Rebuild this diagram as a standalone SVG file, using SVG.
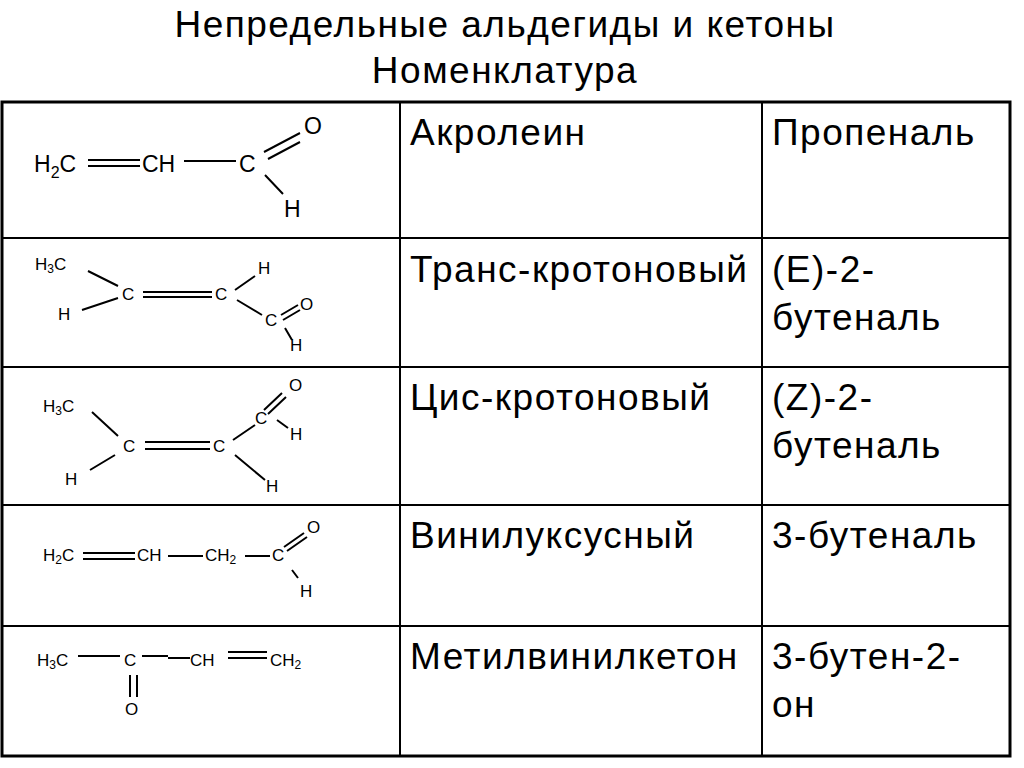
<svg xmlns="http://www.w3.org/2000/svg" width="1024" height="768" viewBox="0 0 1024 768">
<style>
.t{font-family:"Liberation Sans",Arial,sans-serif;font-size:37px;letter-spacing:1.5px;fill:#000}
.c{font-family:"Liberation Sans",Arial,sans-serif;font-size:23px;fill:#000}
.s{font-family:"Liberation Sans",Arial,sans-serif;font-size:17px;fill:#000}
.b{stroke:#000;stroke-width:2;fill:none}
.g{stroke:#000;stroke-width:2;fill:none}
</style>
<rect width="1024" height="768" fill="#fff"/>
<text class="t" x="505" y="37" text-anchor="middle">Непредельные альдегиды и кетоны</text>
<text class="t" x="505" y="83" text-anchor="middle">Номенклатура</text>
<g id="table" class="g">
<rect x="2" y="102" width="1008" height="654" stroke-width="3"/>
<line x1="400" y1="102" x2="400" y2="756"/>
<line x1="762" y1="102" x2="762" y2="756"/>
<line x1="2" y1="238" x2="1010" y2="238"/>
<line x1="2" y1="367" x2="1010" y2="367"/>
<line x1="2" y1="505" x2="1010" y2="505"/>
<line x1="2" y1="626" x2="1010" y2="626"/>
</g>
<g id="names">
<text class="t" x="410" y="145">Акролеин</text><text class="t" x="772" y="145">Пропеналь</text>
<text class="t" x="410" y="282">Транс-кротоновый</text><text class="t" x="772" y="282">(E)-2-</text><text class="t" x="772" y="330">бутеналь</text>
<text class="t" x="410" y="410">Цис-кротоновый</text><text class="t" x="772" y="410">(Z)-2-</text><text class="t" x="772" y="458">бутеналь</text>
<text class="t" x="410" y="548">Винилуксусный</text><text class="t" x="772" y="548">3-бутеналь</text>
<text class="t" x="410" y="669">Метилвинилкетон</text><text class="t" x="772" y="669">3-бутен-2-</text><text class="t" x="772" y="717">он</text>
</g>
<g id="acrolein">
<text class="c" x="34" y="172">H<tspan font-size="16" dy="6">2</tspan><tspan dy="-6">C</tspan></text>
<text class="c" x="142" y="172">CH</text><text class="c" x="239" y="172">C</text>
<text class="c" x="304" y="134">O</text><text class="c" x="284" y="217">H</text>
<path class="b" d="M88 160H140M88 166H140M184 161H236M264 152L300 133M268 159L300 142M265 175L283 194"/>
</g>
<g id="trans">
<text class="s" x="35" y="270">H<tspan font-size="12" dy="3">3</tspan><tspan dy="-3">C</tspan></text>
<text class="s" x="122" y="300">C</text><text class="s" x="58" y="320">H</text>
<text class="s" x="215" y="300">C</text><text class="s" x="258" y="274">H</text>
<text class="s" x="265" y="326">C</text><text class="s" x="300" y="310">O</text><text class="s" x="290" y="351">H</text>
<path class="b" stroke-width="1.5" d="M88 271L118 286M82 310L118 298M143 292H212M143 297H212M235 290L255 276M237 300L262 315M281 315L298 305M283 320L300 310M285 328L292 340"/>
</g>
<g id="cis">
<text class="s" x="43" y="412">H<tspan font-size="12" dy="3">3</tspan><tspan dy="-3">C</tspan></text>
<text class="s" x="123" y="452">C</text><text class="s" x="65" y="485">H</text>
<text class="s" x="213" y="452">C</text><text class="s" x="255" y="424">C</text>
<text class="s" x="289" y="391">O</text><text class="s" x="290" y="440">H</text><text class="s" x="266" y="492">H</text>
<path class="b" stroke-width="1.5" d="M92 412L118 436M90 470L115 455M145 442H210M145 449H210M233 440L255 425M264 410L282 393M268 414L286 397M277 420L288 428M235 455L265 480"/>
</g>
<g id="vinylacetic">
<text class="s" x="43" y="561">H<tspan font-size="12" dy="3">2</tspan><tspan dy="-3">C</tspan></text>
<text class="s" x="137" y="561">CH</text>
<text class="s" x="205" y="561">CH<tspan font-size="12" dy="3">2</tspan></text>
<text class="s" x="272" y="561">C</text><text class="s" x="307" y="533">O</text><text class="s" x="300" y="597">H</text>
<path class="b" stroke-width="1.5" d="M83 553H135M83 559H135M168 556H203M245 556H270M284 547L304 533M287 551L307 537M292 570L298 578"/>
</g>
<g id="mvk">
<text class="s" x="37" y="666">H<tspan font-size="12" dy="3">3</tspan><tspan dy="-3">C</tspan></text>
<text class="s" x="124" y="666">C</text>
<text class="s" x="190" y="666">CH</text>
<text class="s" x="270" y="666">CH<tspan font-size="12" dy="3">2</tspan></text>
<text class="s" x="125" y="715">O</text>
<path class="b" stroke-width="1.5" d="M78 656H120M142 656H168M168 658H190M228 652H267M228 658H267M130 675V697M137 675V697"/>
</g>
</svg>
